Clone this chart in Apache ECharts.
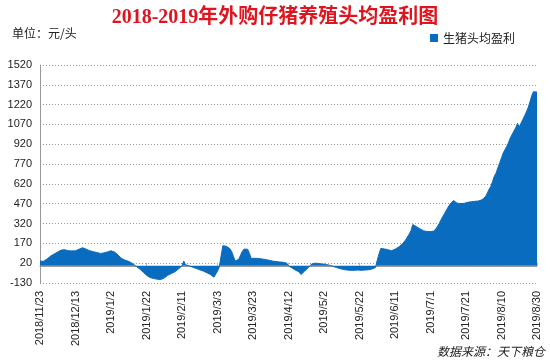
<!DOCTYPE html>
<html>
<head>
<meta charset="utf-8">
<script src="https://cdn.jsdelivr.net/npm/echarts@6/dist/echarts.min.js"></script>
<style>
html,body{margin:0;padding:0;background:#fff;}
#main{width:550px;height:361px;}
</style>
</head>
<body>
<div id="main"></div>
<script>
var startDate = [2018, 11, 23];
var dayCount = 281;
var seriesName = '生猪头均盈利';
var yTicks = [-130, 20, 170, 320, 470, 620, 770, 920, 1070, 1220, 1370, 1520];
var profit = [
  36, 35, 34, 40, 52, 66, 74, 82, 90, 98,
  105, 112, 119, 125, 122, 117, 114, 116, 113, 112,
  114, 118, 126, 133, 137, 132, 126, 120, 115, 110,
  107, 104, 101, 97, 94, 93, 98, 102, 105, 110,
  114, 112, 104, 92, 81, 68, 55, 48, 42, 38,
  34, 26, 18, 8, -2, -12, -22, -34, -45, -58,
  -72, -82, -88, -93, -96, -99, -101, -103, -104, -100,
  -92, -81, -71, -64, -58, -51, -45, -36, -24, -12,
  0, 36, 8, 0, 0, -5, -10, -15, -20, -25,
  -30, -35, -40, -46, -52, -58, -66, -76, -86, -72,
  -40, -8, 0, 152, 150, 148, 145, 130, 107, 70,
  36, 25, 50, 81, 110, 127, 132, 125, 94, 56,
  58, 57, 56, 56, 54, 52, 50, 48, 46, 42,
  38, 36, 34, 32, 30, 29, 28, 27, 25, 20,
  0, -8, -16, -25, -33, -40, -46, -66, -55, -42,
  -28, -15, 0, 13, 18, 20, 20, 18, 15, 13,
  12, 10, 8, 5, 2, -3, -8, -13, -17, -21,
  -25, -28, -30, -32, -33, -34, -33, -34, -33, -32,
  -33, -34, -33, -32, -31, -30, -28, -24, -18, -13,
  43, 90, 132, 130, 128, 125, 122, 118, 114, 118,
  125, 132, 142, 153, 163, 180, 196, 208, 240, 266,
  312, 305, 297, 288, 280, 271, 266, 262, 259, 258,
  259, 260, 263, 280, 300, 322, 350, 375, 398, 422,
  445, 467, 480, 494, 485, 474, 472, 471, 470, 473,
  479, 481, 483, 485, 487, 488, 490, 491, 492, 500,
  515, 525, 550, 580, 601, 640, 680, 703, 745, 779,
  818, 855, 880, 905, 935, 969, 995, 1020, 1045, 1078,
  1052, 1080, 1108, 1135, 1165, 1197, 1240, 1285, 1318, 1316,
  1315
];

var dates = [];
(function(){
  var d = new Date(startDate[0], startDate[1] - 1, startDate[2]);
  for (var i = 0; i < dayCount; i++) {
    dates.push(d.getFullYear() + '/' + (d.getMonth() + 1) + '/' + d.getDate());
    d.setDate(d.getDate() + 1);
  }
})();

var blue = '#0a6cbf';
var chart = echarts.init(document.getElementById('main'), null, {renderer: 'canvas'});
chart.setOption({
  animation: false,
  backgroundColor: '#fff',
  title: {
    text: '2018-2019年外购仔猪养殖头均盈利图',
    left: 'center',
    top: 3,
    textStyle: {
      color: '#e0141e',
      fontSize: 20,
      fontWeight: 'bold',
      fontFamily: '"Liberation Serif", "Noto Sans CJK SC", serif'
    }
  },
  legend: {
    data: [seriesName],
    right: 30,
    top: 27,
    icon: 'rect',
    itemWidth: 8,
    itemHeight: 8,
    itemGap: 5,
    textStyle: {fontSize: 12, color: '#222', fontFamily: '"Noto Sans CJK SC", sans-serif'}
  },
  graphic: [
    {
      type: 'text',
      left: 12,
      top: 27,
      style: {text: '单位：元/头', fontSize: 12, fill: '#222', fontFamily: '"Noto Sans CJK SC", sans-serif'}
    },
    {
      type: 'text',
      right: 5,
      bottom: 4,
      style: {text: '数据来源：天下粮仓', fontSize: 12, fill: '#222', fontStyle: 'italic', fontFamily: '"Noto Sans CJK SC", sans-serif'}
    }
  ],
  grid: {left: 40, right: 13, top: 65, bottom: 78, containLabel: false},
  xAxis: [
    {
      type: 'category',
      data: dates,
      boundaryGap: false,
      axisLine: {onZero: true, lineStyle: {color: '#999', width: 1}},
      axisTick: {show: true, inside: true, length: 3, interval: 19, lineStyle: {color: '#bbb'}},
      axisLabel: {show: false},
      splitLine: {show: false}
    },
    {
      type: 'category',
      data: dates,
      boundaryGap: false,
      position: 'bottom',
      axisLine: {show: false, onZero: false},
      axisTick: {show: false},
      axisLabel: {
        rotate: 90,
        interval: 19,
        margin: 8,
        fontSize: 11,
        color: '#222',
        fontFamily: '"Liberation Sans", Arial, sans-serif'
      },
      splitLine: {show: false}
    }
  ],
  yAxis: {
    type: 'value',
    min: yTicks[0],
    max: yTicks[yTicks.length - 1],
    interval: 150,
    axisLine: {show: true, lineStyle: {color: '#999'}},
    axisTick: {show: false},
    axisLabel: {
      fontSize: 11, color: '#222', margin: 8,
      fontFamily: '"Liberation Sans", Arial, sans-serif',
      formatter: function (v) { return String(v); }
    },
    splitLine: {show: true, lineStyle: {color: '#999', type: [1, 2], width: 1}}
  },
  series: [{
    name: seriesName,
    type: 'line',
    xAxisIndex: 0,
    data: profit,
    symbol: 'none',
    lineStyle: {color: blue, width: 1},
    itemStyle: {color: blue},
    areaStyle: {color: blue, opacity: 1}
  }]
});
</script>
</body>
</html>
